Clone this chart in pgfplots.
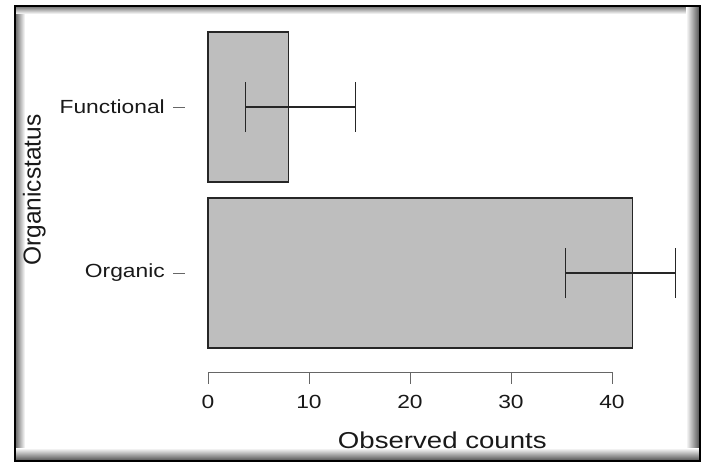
\documentclass[border=0pt]{standalone}
\usepackage{fontspec}
\setmainfont{Liberation Sans}[FakeStretch=1.2]
\newfontfamily\ylabfont{Liberation Sans}
\usepackage{pgfplots}
\pgfplotsset{compat=1.18}
\definecolor{barfill}{RGB}{190,190,190}
\pgfplotstableread{
y x em ep
1 8 4.3 6.6
0 42 6.6 4.3
}\bardata
\begin{document}
\begin{tikzpicture}
% picture frame with inner shadow
\shade[left color=black!55, right color=white] (-192pt,-88pt) rectangle (-183pt,365pt);
\shade[top color=black!50, bottom color=white] (-192pt,358pt) rectangle (491pt,365pt);
\shade[left color=white, right color=black!65] (478pt,-88pt) rectangle (491pt,365pt);
\shade[top color=white, bottom color=black!65] (-192pt,-88pt) rectangle (491pt,-76pt);
\draw[black, line width=2pt] (-193pt,-89pt) rectangle (492pt,366pt);
\begin{axis}[
  at={(0pt,0pt)}, anchor=south west,
  width=404pt, height=352pt, scale only axis,
  xmin=0, xmax=40, ymin=-0.596, ymax=1.524,
  clip=false,
  axis x line*=bottom, axis y line*=left,
  y axis line style={draw=none},
  x axis line style={draw=black!60, line width=0.8pt},
  xtick={0,10,20,30,40},
  ytick={0,1}, yticklabels={Organic,Functional},
  tick align=outside, major tick length=11.5pt,
  x tick style={draw=black!60, line width=0.8pt},
  y tick style={draw=black!60, line width=0.8pt, xshift=-23pt},
  /pgf/number format/assume math mode=true,
  tick label style={font=\fontsize{19}{22}\selectfont, text=black!90},
  xticklabel style={inner sep=0pt, yshift=-12pt},
  yticklabel style={inner sep=0pt, xshift=-31.5pt},
  xlabel={Observed counts},
  xlabel style={at={(axis cs:23.2,-0.596)}, anchor=center, yshift=-68pt, font=\fontsize{23}{26}\selectfont, text=black!90},
  ylabel={Organicstatus},
  ylabel style={at={(axis cs:-17.2,0.5)}, anchor=center, font=\ylabfont\fontsize{24.5}{28}\selectfont, text=black!90},
]
\addplot[xbar, bar width=150pt, fill=barfill, draw=black!85, line width=1.4pt,
  error bars/.cd, x dir=both, x explicit,
  error mark=|,
  error bar style={line width=1.5pt, black!85},
  error mark options={mark size=25pt, line width=1.7pt, black!85}]
table[x=x, y=y, x error plus=ep, x error minus=em] {\bardata};
\end{axis}
\pgfresetboundingbox
\useasboundingbox (-208pt,-91pt) rectangle (496pt,372pt);
\end{tikzpicture}
\end{document}
